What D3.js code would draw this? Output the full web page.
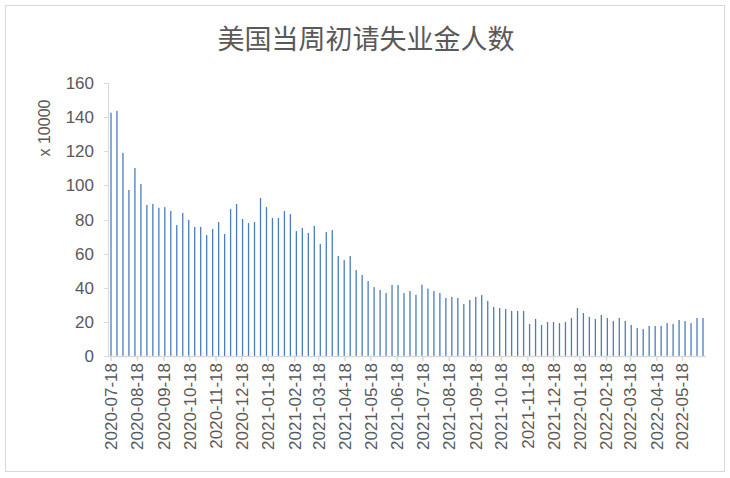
<!DOCTYPE html>
<html><head><meta charset="utf-8">
<script src="https://cdn.jsdelivr.net/npm/d3@7"></script>
<style>body{margin:0;background:#fff}</style></head>
<body><svg id="c" width="730" height="478"></svg>
<script>
const title = "美国当周初请失业金人数";
const startDate = "2020-07-18";
const values = [142.6,143.7,119.1,97.3,110.2,100.8,88.5,89.1,86.9,87.3,85.0,76.8,83.8,79.7,75.6,75.6,70.9,74.4,78.5,71.5,
86.1,89.1,80.3,77.9,78.5,92.6,87.3,80.9,80.9,85.0,83.2,73.2,75.0,72.1,76.2,65.6,72.7,73.8,58.6,56.2,
58.6,50.4,47.5,43.9,40.4,38.7,36.9,41.6,41.6,36.9,38.1,35.9,41.8,39.5,38.1,36.9,34.0,34.6,34.0,30.5,
32.8,34.6,35.7,32.2,28.7,28.1,27.5,26.4,26.4,26.4,18.8,21.7,18.2,19.9,19.9,19.3,19.9,22.3,28.1,25.2,
22.9,21.7,24.0,22.3,20.5,22.3,20.5,18.2,16.4,15.8,17.6,17.6,17.6,19.3,18.8,21.1,20.5,19.3,22.3,22.3];
const yTicks = [0,20,40,60,80,100,120,140,160];
const monthLabels = ["2020-07-18","2020-08-18","2020-09-18","2020-10-18","2020-11-18","2020-12-18","2021-01-18","2021-02-18","2021-03-18","2021-04-18","2021-05-18","2021-06-18","2021-07-18","2021-08-18","2021-09-18","2021-10-18","2021-11-18","2021-12-18","2022-01-18","2022-02-18","2022-03-18","2022-04-18","2022-05-18"];

const parse = d3.timeParse("%Y-%m-%d");
const t0 = parse(startDate);
const data = values.map((v,i)=>({date:d3.timeDay.offset(t0,i*7), v}));
const svg = d3.select("#c");
const F = "'Liberation Sans','DejaVu Sans',sans-serif";
svg.append("rect").attr("x",5.5).attr("y",5.5).attr("width",719).attr("height",466).attr("fill","#fff").attr("stroke","#d9d9d9");
svg.append("text").attr("x",366).attr("y",49).attr("text-anchor","middle").attr("font-family","'Noto Sans CJK SC',sans-serif").attr("font-size",27).attr("fill","#595959").text(title);

const x = d3.scaleTime().domain([t0, data[data.length-1].date]).range([111,703]);
const y = d3.scaleLinear().domain([0,160]).range([356,83]);

svg.append("line").attr("x1",108.5).attr("x2",108.5).attr("y1",83).attr("y2",356).attr("stroke","#d9d9d9");
yTicks.forEach(t=>{
  svg.append("line").attr("x1",104).attr("x2",108).attr("y1",Math.round(y(t))+0.5).attr("y2",Math.round(y(t))+0.5).attr("stroke","#d9d9d9");
  svg.append("text").attr("x",94).attr("y",y(t)+6).attr("text-anchor","end").attr("font-family",F).attr("font-size",17).attr("fill","#595959").text(t);
});
svg.append("text").attr("transform","translate(50,128) rotate(-90)").attr("text-anchor","middle").attr("font-family",F).attr("font-size",16).attr("fill","#595959").text("x 10000");

svg.selectAll("rect.bar").data(data).enter().append("rect").attr("class","bar")
  .attr("x",d=>x(d.date)-0.65).attr("width",1.3)
  .attr("y",d=>y(d.v)).attr("height",d=>y(0)-y(d.v)).attr("fill","#4a7ebb");

svg.append("line").attr("x1",108).attr("x2",706).attr("y1",356.5).attr("y2",356.5).attr("stroke","#d9d9d9").attr("stroke-width",1.5);
monthLabels.forEach(s=>{
  const px = x(parse(s));
  svg.append("line").attr("x1",px).attr("x2",px).attr("y1",356).attr("y2",361).attr("stroke","#d9d9d9").attr("stroke-width",1.5);
  svg.append("text").attr("transform",`translate(${px+6},363) rotate(-90)`).attr("text-anchor","end").attr("font-family",F).attr("font-size",17).attr("fill","#595959").text(s);
});
</script></body></html>
